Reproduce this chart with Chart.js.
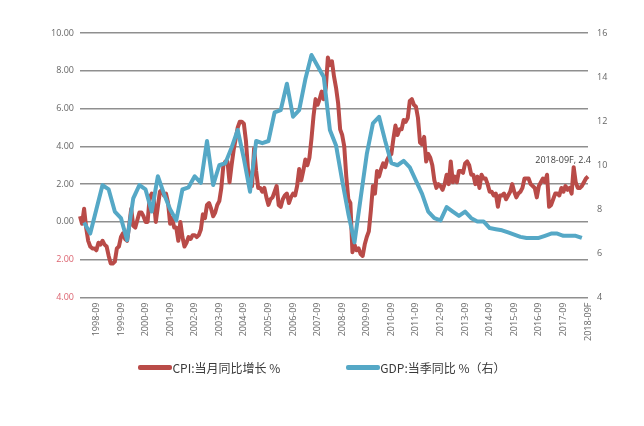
<!DOCTYPE html>
<html>
<head>
<meta charset="utf-8">
<script src="https://cdn.jsdelivr.net/npm/chart.js@4.4.0/dist/chart.umd.min.js"></script>
<style>
  html, body { margin: 0; padding: 0; background: #fff; }
  #wrap { position: relative; width: 644px; height: 426px; }
  #legend { position: absolute; left: 0; top: 359px; width: 644px; display: flex; justify-content: center;
            font: 12px "Noto Sans CJK SC", sans-serif; color: #3a3a3a; line-height: 17px; }
  .item { display: flex; align-items: center; margin: 0 33px; }
  .swatch { width: 34px; height: 5px; border-radius: 2px; }
</style>
</head>
<body>
<div id="wrap">
  <canvas id="chart" width="644" height="426"></canvas>
  <div id="legend"></div>
</div>
<script>
const startYear = 1998;
const xTickLabels = ['1998-09', '1999-09', '2000-09', '2001-09', '2002-09', '2003-09', '2004-09',
    '2005-09', '2006-09', '2007-09', '2008-09', '2009-09', '2010-09', '2011-09', '2012-09',
    '2013-09', '2014-09', '2015-09', '2016-09', '2017-09', '2018-09F'];

// CPI monthly yoy %, 1998-01 .. 2018-09
const cpi = [
    0.3, -0.1, 0.7, -0.3, -1.0, -1.3, -1.4, -1.4, -1.5, -1.1, -1.2, -1.0,
    -1.2, -1.3, -1.8, -2.2, -2.2, -2.1, -1.4, -1.3, -0.8, -0.6, -0.9, -1.0,
    -0.2, 0.7, -0.2, -0.3, 0.1, 0.5, 0.5, 0.3, 0.0, 0.0, 1.3, 1.5,
    1.2, 0.0, 0.8, 1.6, 1.7, 1.4, 1.5, 1.0, -0.1, 0.2, -0.3, -0.3,
    -1.0, 0.0, -0.8, -1.3, -1.1, -0.8, -0.9, -0.7, -0.7, -0.8, -0.7, -0.4,
    0.4, 0.2, 0.9, 1.0, 0.7, 0.3, 0.5, 0.9, 1.1, 1.8, 3.0, 3.2,
    3.2, 2.1, 3.0, 3.8, 4.4, 5.0, 5.3, 5.3, 5.2, 4.3, 2.8, 2.4,
    1.9, 3.9, 2.7, 1.8, 1.8, 1.6, 1.8, 1.3, 0.9, 1.2, 1.3, 1.6,
    1.9, 0.9, 0.8, 1.2, 1.4, 1.5, 1.0, 1.3, 1.5, 1.4, 1.9, 2.8,
    2.2, 2.7, 3.3, 3.0, 3.4, 4.4, 5.6, 6.5, 6.2, 6.5, 6.9, 6.5,
    7.1, 8.7, 8.3, 8.5, 7.7, 7.1, 6.3, 4.9, 4.6, 4.0, 2.4, 1.2,
    1.0, -1.6, -1.2, -1.5, -1.4, -1.7, -1.8, -1.2, -0.8, -0.5, 0.6, 1.9,
    1.5, 2.7, 2.4, 2.8, 3.1, 2.9, 3.3, 3.5, 3.6, 4.4, 5.1, 4.6,
    4.9, 4.9, 5.4, 5.3, 5.5, 6.4, 6.5, 6.2, 6.1, 5.5, 4.2, 4.1,
    4.5, 3.2, 3.6, 3.4, 3.0, 2.2, 1.8, 2.0, 1.9, 1.7, 2.0, 2.5,
    2.0, 3.2, 2.1, 2.4, 2.1, 2.7, 2.7, 2.6, 3.1, 3.2, 3.0, 2.5,
    2.5, 2.0, 2.4, 1.8, 2.5, 2.3, 2.3, 2.0, 1.6, 1.6, 1.4, 1.5,
    0.8, 1.4, 1.4, 1.5, 1.2, 1.4, 1.6, 2.0, 1.6, 1.3, 1.5, 1.6,
    1.8, 2.3, 2.3, 2.3, 2.0, 1.9, 1.8, 1.3, 1.9, 2.1, 2.3, 2.1,
    2.5, 0.8, 0.9, 1.2, 1.5, 1.5, 1.4, 1.8, 1.6, 1.9, 1.7, 1.8,
    1.5, 2.9, 2.1, 1.8, 1.8, 1.9, 2.1, 2.3, 2.4
];

// GDP quarterly yoy %, 1998Q1 .. 2018Q2
const gdpQuarterly = [
    7.4, 6.9, 8.0, 9.1,
    8.9, 7.9, 7.6, 6.6,
    8.5, 9.1, 8.9, 7.9,
    9.5, 8.7, 8.0, 7.5,
    8.9, 9.0, 9.5, 9.2,
    11.1, 9.1, 10.0, 10.1,
    10.8, 11.6, 10.3, 8.8,
    11.1, 11.0, 11.1, 12.4,
    12.5, 13.7, 12.2, 12.5,
    13.9, 15.0, 14.5, 14.0,
    11.6, 10.9, 9.3, 7.8,
    6.5, 8.5, 10.5, 11.9,
    12.2, 11.1, 10.1, 10.0,
    10.2, 9.9, 9.3, 8.7,
    7.9, 7.6, 7.5, 8.1,
    7.9, 7.7, 7.9, 7.6,
    7.45, 7.45, 7.15, 7.1,
    7.05, 6.95, 6.85, 6.75,
    6.7, 6.7, 6.7, 6.8,
    6.9, 6.9, 6.8, 6.8,
    6.8, 6.7
];

const cpiLabel = 'CPI:当月同比增长 %';
const gdpLabel = 'GDP:当季同比 %（右）';
const cpiColor = '#b94b48';
const gdpColor = '#55a8c6';

const months = cpi.map((v, i) => {
    const m = i % 12 + 1;
    return (startYear + Math.floor(i / 12)) + '-' + (m < 10 ? '0' + m : m);
});
// quarterly values sit on the last month of each quarter
const gdpMonthly = months.map(() => null);
gdpQuarterly.forEach((v, q) => { gdpMonthly[q * 3 + 2] = v; });

Chart.defaults.font.family = '"Open Sans", sans-serif';

const lastLabel = {
    id: 'lastLabel',
    afterDatasetsDraw(chart) {
        const meta = chart.getDatasetMeta(0);
        const pt = meta.data[meta.data.length - 1];
        const ctx = chart.ctx;
        ctx.save();
        ctx.font = '9px "Open Sans"';
        ctx.fillStyle = '#404040';
        ctx.textAlign = 'right';
        ctx.textBaseline = 'middle';
        ctx.fillText(xTickLabels[xTickLabels.length - 1] + ', ' + cpi[cpi.length - 1], pt.x + 3, pt.y - 16);
        ctx.restore();
    }
};

let chart = new Chart(document.getElementById('chart').getContext('2d'), {
    type: 'line',
    data: {
        labels: months,
        datasets: [{
            label: cpiLabel,
            data: cpi,
            yAxisID: 'y',
            borderColor: cpiColor,
            borderWidth: 4,
            pointRadius: 0,
            borderJoinStyle: 'round',
            order: 1
        }, {
            label: gdpLabel,
            data: gdpMonthly,
            yAxisID: 'y1',
            spanGaps: true,
            borderColor: gdpColor,
            borderWidth: 4,
            pointRadius: 0,
            borderJoinStyle: 'round',
            order: 0
        }]
    },
    options: {
        responsive: false,
        animation: false,
        layout: { padding: { top: 33, left: 0, right: 0, bottom: 0 } },
        plugins: {
            legend: { display: false },
            tooltip: { enabled: false }
        },
        scales: {
            x: {
                type: 'category',
                grid: { display: false, drawTicks: false },
                border: { display: false },
                afterFit: (scale) => { scale.height = 128.5; },
                ticks: {
                    autoSkip: false,
                    minRotation: 90,
                    maxRotation: 90,
                    padding: 5,
                    color: '#666',
                    font: { size: 9 },
                    callback: (value, index) => (index - 8) % 12 === 0 ? xTickLabels[(index - 8) / 12] : ''
                }
            },
            y: {
                position: 'left',
                min: -4,
                max: 10,
                afterFit: (scale) => { scale.width = 80; },
                grid: { color: '#8f8f8f', lineWidth: 1.5, drawTicks: false },
                border: { display: false },
                ticks: {
                    stepSize: 2,
                    padding: 6,
                    font: { size: 9 },
                    color: (c) => c.tick.value < 0 ? '#dc6470' : '#666',
                    callback: (v) => Math.abs(v).toFixed(2)
                }
            },
            y1: {
                position: 'right',
                min: 4,
                max: 16,
                afterFit: (scale) => { scale.width = 56; },
                grid: { display: false, drawTicks: false },
                border: { display: false },
                ticks: { stepSize: 2, padding: 9, font: { size: 9 }, color: '#666' }
            }
        }
    },
    plugins: [lastLabel]
});

// legend below the plot, in dataset order
const legend = document.getElementById('legend');
for (let ds of chart.data.datasets) {
    const item = document.createElement('div');
    item.className = 'item';
    const sw = document.createElement('div');
    sw.className = 'swatch';
    sw.style.background = ds.borderColor;
    const txt = document.createElement('span');
    txt.textContent = ds.label;
    item.appendChild(sw);
    item.appendChild(txt);
    legend.appendChild(item);
}
</script>
</body>
</html>
